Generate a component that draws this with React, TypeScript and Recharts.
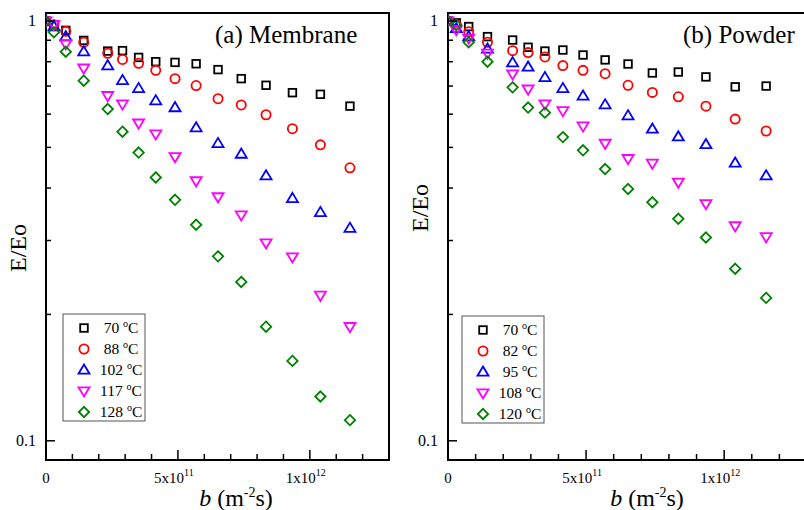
import React from 'react';
import { ScatterChart, Scatter, XAxis, YAxis, Customized } from 'recharts';

// ---------- data ----------
const B_VALUES = [0, 3e10, 7.5e10, 1.43e11, 2.34e11, 2.9e11, 3.51e11, 4.16e11, 4.89e11, 5.69e11, 6.52e11, 7.4e11, 8.34e11, 9.34e11, 1.04e12, 1.152e12];

const MEMBRANE_TEMPS = ['70', '88', '102', '117', '128'];
const MEMBRANE_70 = [1, 0.98, 0.95, 0.899, 0.848, 0.85, 0.819, 0.8, 0.797, 0.791, 0.766, 0.729, 0.703, 0.675, 0.669, 0.627];
const MEMBRANE_88 = [1, 0.98, 0.945, 0.89, 0.838, 0.81, 0.793, 0.763, 0.729, 0.702, 0.653, 0.631, 0.598, 0.554, 0.507, 0.447];
const MEMBRANE_102 = [1, 0.97, 0.918, 0.845, 0.783, 0.722, 0.691, 0.646, 0.622, 0.557, 0.511, 0.482, 0.428, 0.378, 0.35, 0.321];
const MEMBRANE_117 = [1, 0.98, 0.882, 0.772, 0.664, 0.634, 0.571, 0.538, 0.475, 0.416, 0.381, 0.345, 0.296, 0.274, 0.222, 0.187];
const MEMBRANE_128 = [1, 0.94, 0.845, 0.721, 0.617, 0.545, 0.486, 0.424, 0.375, 0.327, 0.275, 0.239, 0.187, 0.155, 0.1275, 0.112];

const POWDER_TEMPS = ['70', '82', '95', '108', '120'];
const POWDER_70 = [1, 0.99, 0.97, 0.918, 0.901, 0.866, 0.848, 0.853, 0.83, 0.808, 0.79, 0.752, 0.756, 0.736, 0.697, 0.7];
const POWDER_82 = [1, 0.98, 0.943, 0.89, 0.85, 0.841, 0.821, 0.783, 0.763, 0.749, 0.703, 0.676, 0.66, 0.627, 0.584, 0.547];
const POWDER_95 = [1, 0.96, 0.918, 0.858, 0.796, 0.777, 0.734, 0.691, 0.663, 0.632, 0.595, 0.553, 0.53, 0.508, 0.459, 0.428];
const POWDER_108 = [1, 0.953, 0.91, 0.838, 0.748, 0.688, 0.634, 0.611, 0.562, 0.511, 0.47, 0.458, 0.413, 0.367, 0.325, 0.306];
const POWDER_120 = [1, 0.978, 0.89, 0.8, 0.695, 0.622, 0.605, 0.529, 0.492, 0.444, 0.398, 0.37, 0.338, 0.305, 0.257, 0.219];

const X_TICKS = [0, 1e11, 2e11, 3e11, 4e11, 5e11, 6e11, 7e11, 8e11, 9e11, 1e12, 1.1e12, 1.2e12];
const X_MAJOR_TICKS = [0, 5e11, 1e12];
const X_TICK_MANTISSA = ['0', '5x10', '1x10'];
const X_TICK_EXPONENT = ['', '11', '12'];
const Y_TICKS = [0.1, 0.2, 0.3, 0.4, 0.5, 0.6, 0.7, 0.8, 0.9, 1];
const Y_MAJOR_TICKS = [0.1, 1];
const Y_TICK_LABELS = ['0.1', '1'];

const X_DOMAIN = [0, 1.3e12];
const Y_DOMAIN = [0.09, 1.045];

// ---------- styles ----------
const FONT = 'Liberation Serif, Times New Roman, DejaVu Serif, serif';
const TXT = { fontFamily: FONT };
const COLORS = ['#000000', '#ff0000', '#0000ff', '#ff00ff', '#008000'];
const KINDS = ['square', 'circle', 'up', 'down', 'diamond'];

function toRows(values: number[]) {
  return B_VALUES.map((b, i) => ({ b, e: values[i] }));
}

function Marker({ kind, cx, cy, color }: { kind: string; cx: number; cy: number; color: string }) {
  const sw = 1.8;
  if (cx == null || cy == null || isNaN(cx) || isNaN(cy)) return null;
  if (kind === 'square') {
    return <rect x={cx - 3.8} y={cy - 3.8} width={7.6} height={7.6} fill="none" stroke={color} strokeWidth={sw} />;
  }
  if (kind === 'circle') {
    return <circle cx={cx} cy={cy} r={4.6} fill="none" stroke={color} strokeWidth={sw} />;
  }
  if (kind === 'up') {
    const h = 9.2, w = 11;
    return (
      <polygon
        points={`${cx},${cy - h * 0.6} ${cx + w / 2},${cy + h * 0.4} ${cx - w / 2},${cy + h * 0.4}`}
        fill="none" stroke={color} strokeWidth={sw}
      />
    );
  }
  if (kind === 'down') {
    const h = 9.2, w = 11;
    return (
      <polygon
        points={`${cx},${cy + h * 0.6} ${cx + w / 2},${cy - h * 0.4} ${cx - w / 2},${cy - h * 0.4}`}
        fill="none" stroke={color} strokeWidth={sw}
      />
    );
  }
  const d = 5.2;
  return (
    <polygon
      points={`${cx},${cy - d} ${cx + d},${cy} ${cx},${cy + d} ${cx - d},${cy}`}
      fill="none" stroke={color} strokeWidth={sw}
    />
  );
}

function XTick(props: any) {
  const { x, y, payload } = props;
  const v = payload.value;
  const mi = X_MAJOR_TICKS.indexOf(v);
  const len = mi >= 0 ? 10 : 6;
  return (
    <g>
      <line x1={x} x2={x} y1={y} y2={y - len} stroke="#000" strokeWidth={1.5} />
      {mi >= 0 && (
        <text x={x - (X_TICK_EXPONENT[mi] ? 4 : 0)} y={y + 23} textAnchor="middle" style={TXT} fontSize={15} fill="#000">
          {X_TICK_MANTISSA[mi]}
          {X_TICK_EXPONENT[mi] && (
            <tspan dy={-7} fontSize={10}>{X_TICK_EXPONENT[mi]}</tspan>
          )}
        </text>
      )}
    </g>
  );
}

function YTick(props: any) {
  const { x, y, payload } = props;
  const v = payload.value;
  const mi = Y_MAJOR_TICKS.findIndex((t) => Math.abs(t - v) < 1e-9);
  const len = mi >= 0 ? 9 : 5;
  return (
    <g>
      <line x1={x} x2={x + len} y1={y} y2={y} stroke="#000" strokeWidth={1.5} />
      {mi >= 0 && (
        <text x={x - 10} y={y + 5} textAnchor="end" style={TXT} fontSize={16} fill="#000">
          {Y_TICK_LABELS[mi]}
        </text>
      )}
    </g>
  );
}

type PanelProps = {
  left: number;
  width: number;
  plotLeft: number;
  plotRight: number;
  title: string;
  titleX: number;
  yLabelX: number;
  yLabelY: number;
  xLabelX: number;
  legendX: number;
  legendY: number;
  temps: string[];
  series: number[][];
};

const PLOT_TOP = 13;
const PLOT_BOTTOM = 460;
const HEIGHT = 510;

function Panel(p: PanelProps) {
  const o = p.left; // page -> local svg coordinates
  const Decor = () => {
    const rowH = 21;
    const pl = p.plotLeft - o;
    const pr = p.plotRight - o;
    const yx = p.yLabelX - o;
    const lx = p.legendX - o;
    return (
      <g>
        <rect
          x={pl} y={PLOT_TOP} width={pr - pl} height={PLOT_BOTTOM - PLOT_TOP}
          fill="none" stroke="#000" strokeWidth={2}
        />
        <text x={p.titleX - o} y={43} style={TXT} fontSize={25} fill="#000">{p.title}</text>
        <text
          x={yx} y={p.yLabelY} transform={`rotate(-90 ${yx} ${p.yLabelY})`}
          textAnchor="middle" style={TXT} fontSize={24} fill="#000"
        >E/Eo</text>
        <text x={p.xLabelX - o} y={506} textAnchor="middle" style={TXT} fontSize={24} fill="#000">
          <tspan fontStyle="italic">b</tspan>
          <tspan> (m</tspan>
          <tspan dy={-9} fontSize={14}>-2</tspan>
          <tspan dy={9}>s)</tspan>
        </text>
        <rect x={lx} y={p.legendY} width={82} height={107} fill="#fff" stroke="#555" strokeWidth={1} />
        {p.temps.map((t, i) => {
          const cy = p.legendY + 14 + i * rowH;
          return (
            <g key={t}>
              <Marker kind={KINDS[i]} cx={lx + 21} cy={cy} color={COLORS[i]} />
              <text x={lx + 58} y={cy + 5} textAnchor="middle" style={TXT} fontSize={15.5} fill="#000">
                {t + ' '}
                <tspan dy={-6} fontSize={10}>o</tspan>
                <tspan dy={6}>C</tspan>
              </text>
            </g>
          );
        })}
      </g>
    );
  };

  return (
    <div style={{ position: 'absolute', left: p.left, top: 0, width: p.width, height: HEIGHT }}>
      <ScatterChart
        width={p.width}
        height={HEIGHT}
        margin={{ top: PLOT_TOP, right: p.width - (p.plotRight - p.left), bottom: 0, left: 0 }}
      >
        <XAxis
          type="number" dataKey="b" domain={X_DOMAIN} allowDataOverflow ticks={X_TICKS} interval={0}
          height={HEIGHT - PLOT_BOTTOM} axisLine={false} tickLine={false} tickSize={0} tickMargin={0}
          tick={<XTick />}
        />
        <YAxis
          type="number" dataKey="e" scale="log" domain={Y_DOMAIN} allowDataOverflow ticks={Y_TICKS} interval={0}
          width={p.plotLeft - p.left} axisLine={false} tickLine={false} tickSize={0} tickMargin={0}
          tick={<YTick />}
        />
        {p.series.map((vals, i) => (
          <Scatter
            key={i}
            name={p.temps[i]}
            data={toRows(vals)}
            isAnimationActive={false}
            shape={(sp: any) => <Marker kind={KINDS[i]} cx={sp.cx} cy={sp.cy} color={COLORS[i]} />}
          />
        ))}
        <Customized component={Decor} />
      </ScatterChart>
    </div>
  );
}

export default function App() {
  return (
    <div style={{ position: 'absolute', left: 0, top: 0, width: 804, height: 510, overflow: 'hidden', background: '#fff', fontFamily: FONT }}>
      <Panel
        left={0} width={400} plotLeft={46} plotRight={389}
        title="(a) Membrane" titleX={215}
        yLabelX={26} yLabelY={248} xLabelX={236}
        legendX={63} legendY={314}
        temps={MEMBRANE_TEMPS}
        series={[MEMBRANE_70, MEMBRANE_88, MEMBRANE_102, MEMBRANE_117, MEMBRANE_128]}
      />
      <Panel
        left={400} width={410} plotLeft={448} plotRight={807}
        title="(b) Powder" titleX={683}
        yLabelX={428} yLabelY={208} xLabelX={647}
        legendX={462} legendY={316}
        temps={POWDER_TEMPS}
        series={[POWDER_70, POWDER_82, POWDER_95, POWDER_108, POWDER_120]}
      />
    </div>
  );
}
